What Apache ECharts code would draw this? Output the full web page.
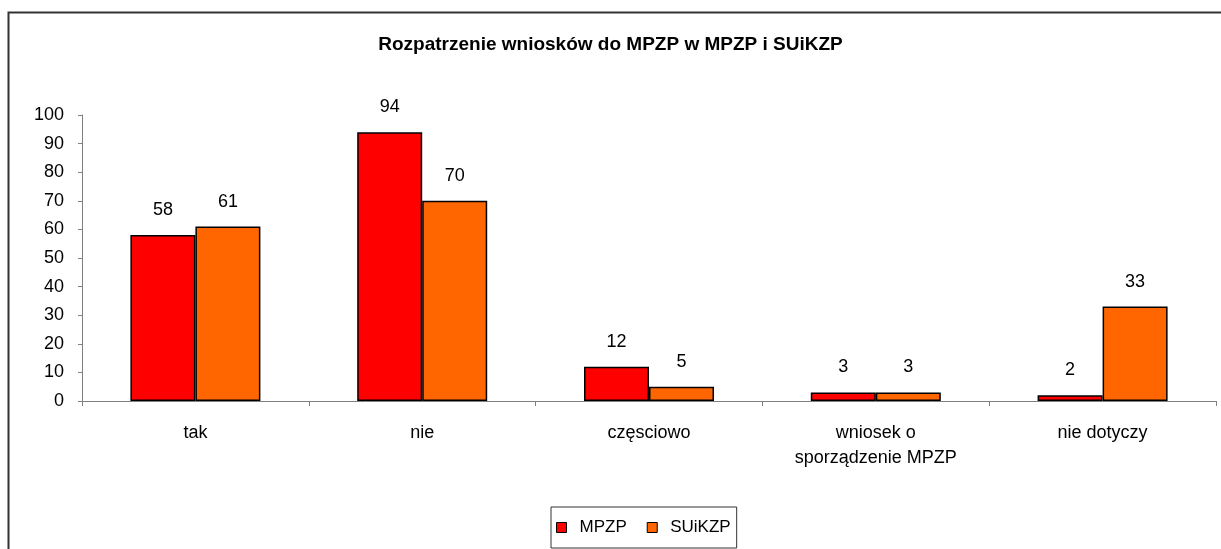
<!DOCTYPE html>
<html>
<head>
<meta charset="utf-8">
<script src="https://cdn.jsdelivr.net/npm/echarts@6/dist/echarts.min.js"></script>
<style>
html,body{margin:0;padding:0;background:#fff;}
#chart{width:1221px;height:549px;}
</style>
</head>
<body>
<div id="chart"></div>
<script>
const titleText = 'Rozpatrzenie wniosków do MPZP w MPZP i SUiKZP';
const categories = ['tak', 'nie', 'częsciowo', 'wniosek o\nsporządzenie MPZP', 'nie dotyczy'];
const seriesNames = ['MPZP', 'SUiKZP'];
const mpzpValues = [58, 94, 12, 3, 2];
const suikzpValues = [61, 70, 5, 3, 33];
const yTicks = { min: 0, max: 100, interval: 10 };

const chart = echarts.init(document.getElementById('chart'), null, { renderer: 'canvas' });
const font = 'Liberation Sans, Arial, sans-serif';
const labelCfg = {
  show: true, position: 'top', distance: 16,
  color: '#000', fontSize: 18, fontFamily: font
};
chart.setOption({
  backgroundColor: '#fff',
  animation: false,
  graphic: [{
    type: 'rect', left: 6, top: 10, silent: true,
    shape: { width: 1400, height: 700 },
    style: { fill: 'none', stroke: '#333', lineWidth: 2 }
  }],
  title: {
    text: titleText, left: 'center', top: 30,
    textStyle: { fontFamily: font, fontSize: 19, fontWeight: 'bold', color: '#000' }
  },
  legend: {
    data: seriesNames, left: 551, top: 507,
    orient: 'horizontal',
    borderColor: '#333', borderWidth: 1,
    padding: [12, 6, 12, 5],
    itemWidth: 10, itemHeight: 10, itemGap: 20,
    icon: 'rect',
    itemStyle: { borderColor: '#000', borderWidth: 1 },
    textStyle: { fontFamily: font, fontSize: 17, color: '#000', padding: [0, 0, 0, 8] }
  },
  grid: { left: 82, right: 5, top: 115, bottom: 148, containLabel: false },
  xAxis: {
    type: 'category', data: categories,
    axisLine: { lineStyle: { color: '#808080', width: 1 } },
    axisTick: { show: true, length: 5, lineStyle: { color: '#808080' } },
    axisLabel: { color: '#000', fontSize: 18, fontFamily: font, margin: 20, lineHeight: 25, interval: 0 }
  },
  yAxis: {
    type: 'value', min: yTicks.min, max: yTicks.max, interval: yTicks.interval,
    splitLine: { show: false },
    axisLine: { show: true, lineStyle: { color: '#808080', width: 1 } },
    axisTick: { show: true, length: 4, lineStyle: { color: '#808080' } },
    axisLabel: { color: '#000', fontSize: 18, fontFamily: font, margin: 18 }
  },
  series: [
    {
      name: seriesNames[0], type: 'bar', data: mpzpValues,
      barWidth: 65, barGap: '0%',
      itemStyle: { color: '#FF0000', borderColor: '#000', borderWidth: 1.5 },
      label: labelCfg
    },
    {
      name: seriesNames[1], type: 'bar', data: suikzpValues,
      barWidth: 65, barGap: '0%',
      itemStyle: { color: '#FF6600', borderColor: '#000', borderWidth: 1.5 },
      label: labelCfg
    }
  ]
});
</script>
</body>
</html>
